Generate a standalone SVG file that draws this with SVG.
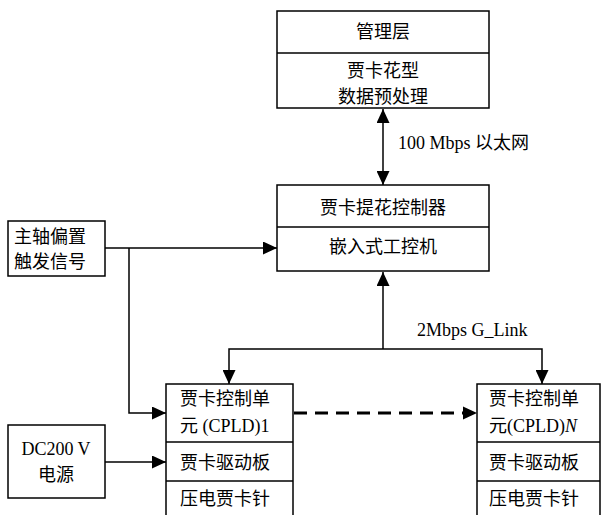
<svg xmlns="http://www.w3.org/2000/svg" width="603" height="515" viewBox="0 0 603 515">
<defs>
<style>
.box{fill:#fff;stroke:#000;stroke-width:1.5}
.ln{fill:none;stroke:#000;stroke-width:1.5}
.dash{fill:none;stroke:#000;stroke-width:3;stroke-dasharray:13 8}
text{font-family:"Liberation Serif","Noto Sans CJK SC",serif;font-size:18px;fill:#000}
.c{text-anchor:middle}
</style>
<marker id="ah" markerUnits="userSpaceOnUse" markerWidth="15" markerHeight="13" refX="14" refY="6.5" orient="auto-start-reverse">
<path d="M0,0 L14,6.5 L0,13 Z" fill="#000"/>
</marker>
</defs>
<rect width="603" height="515" fill="#fff"/>
<g id="connectors">
<line class="ln" x1="383" y1="109" x2="383" y2="185" marker-start="url(#ah)" marker-end="url(#ah)"/>
<line class="ln" x1="105" y1="248" x2="277" y2="248" marker-end="url(#ah)"/>
<polyline class="ln" points="129,248 129,413 166,413" marker-end="url(#ah)"/>
<line class="ln" x1="383" y1="349" x2="383" y2="272" marker-end="url(#ah)"/>
<polyline class="ln" points="229,384 229,349 542,349 542,384" marker-start="url(#ah)" marker-end="url(#ah)"/>
<line class="ln" x1="105" y1="462" x2="166" y2="462" marker-end="url(#ah)"/>
<line class="dash" x1="294" y1="413" x2="465" y2="413"/>
<path d="M463,406.5 L477,413 L463,419.5 Z" fill="#000"/>
<text x="398" y="149">100 Mbps 以太网</text>
<text x="417" y="336">2Mbps G_Link</text>
</g>
<g id="mgmt">
<rect class="box" x="277" y="11" width="212" height="97"/>
<line class="ln" x1="277" y1="53" x2="489" y2="53"/>
<text class="c" x="383" y="38">管理层</text>
<text class="c" x="383" y="77">贾卡花型</text>
<text class="c" x="383" y="103">数据预处理</text>
</g>
<g id="controller">
<rect class="box" x="277" y="185" width="212" height="86"/>
<line class="ln" x1="277" y1="227" x2="489" y2="227"/>
<text class="c" x="383" y="214">贾卡提花控制器</text>
<text class="c" x="383" y="253">嵌入式工控机</text>
</g>
<g id="trigger">
<rect class="box" x="8" y="221" width="97" height="55"/>
<text x="14" y="243">主轴偏置</text>
<text x="14" y="268">触发信号</text>
</g>
<g id="power">
<rect class="box" x="8" y="425" width="97" height="73"/>
<text class="c" x="56" y="455">DC200 V</text>
<text class="c" x="56" y="481">电源</text>
</g>
<g id="unit1">
<rect class="box" x="166" y="384" width="127" height="135"/>
<line class="ln" x1="166" y1="442" x2="293" y2="442"/>
<line class="ln" x1="166" y1="481" x2="293" y2="481"/>
<text x="180" y="405">贾卡控制单</text>
<text x="180" y="432">元 (CPLD)1</text>
<text x="180" y="469">贾卡驱动板</text>
<text x="180" y="505">压电贾卡针</text>
</g>
<g id="unitN">
<rect class="box" x="477" y="384" width="123" height="135"/>
<line class="ln" x1="477" y1="442" x2="600" y2="442"/>
<line class="ln" x1="477" y1="481" x2="600" y2="481"/>
<text x="489" y="405">贾卡控制单</text>
<text x="489" y="432">元(CPLD)<tspan font-style="italic">N</tspan></text>
<text x="489" y="469">贾卡驱动板</text>
<text x="489" y="505">压电贾卡针</text>
</g>
</svg>
